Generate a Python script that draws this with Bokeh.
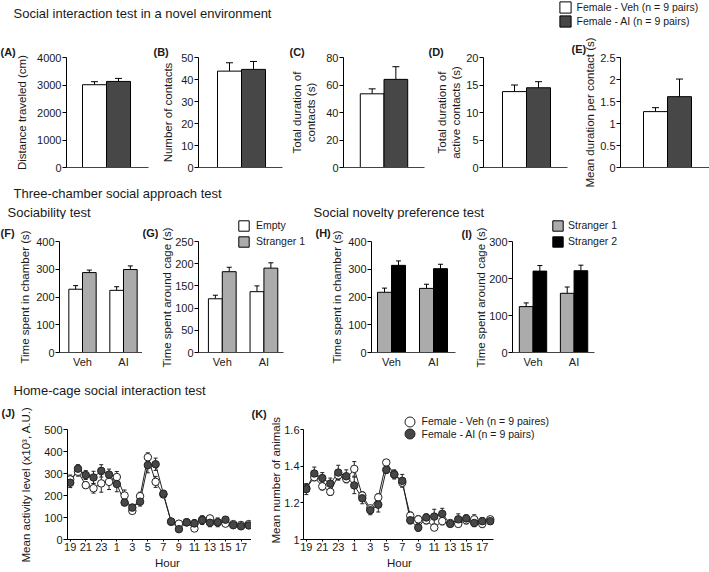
from bokeh.plotting import figure
from bokeh.layouts import column, row
from bokeh.models import (Range1d, FixedTicker, NumeralTickFormatter, Whisker, TeeHead,
                          ColumnDataSource, Label, Legend, LegendItem, Title)
from bokeh.embed import file_html
from bokeh.resources import INLINE

# ---------------- data ----------------
groups = ["Veh", "AI"]

# (A)-(E) social interaction test in a novel environment (Veh, AI)
distance_mean = [3010, 3130]
distance_sem = [110, 110]
contacts_mean = [43.8, 44.6]
contacts_sem = [3.8, 3.6]
contact_dur_mean = [53.6, 64.1]
contact_dur_sem = [3.6, 9.2]
active_dur_mean = [13.8, 14.5]
active_dur_sem = [1.2, 1.1]
per_contact_mean = [1.27, 1.61]
per_contact_sem = [0.09, 0.40]

dist_ticks = [0, 1000, 2000, 3000, 4000]
contacts_ticks = [0, 10, 20, 30, 40, 50]
contact_dur_ticks = [0, 20, 40, 60, 80]
active_ticks = [0, 5, 10, 15, 20]
per_contact_ticks = [0, 0.5, 1, 1.5, 2, 2.5]

# (F)(G) sociability test (Veh, AI)
chamber_empty = [228, 224]
chamber_empty_sem = [13, 13]
chamber_s1 = [288, 299]
chamber_s1_sem = [9, 13]
cage_empty = [121, 137]
cage_empty_sem = [8, 13]
cage_s1 = [182, 190]
cage_s1_sem = [10, 12]

# (H)(I) social novelty preference test (Veh, AI)
nov_chamber_s1 = [217, 231]
nov_chamber_s1_sem = [15, 15]
nov_chamber_s2 = [314, 302]
nov_chamber_s2_sem = [16, 16]
nov_cage_s1 = [124, 160]
nov_cage_s1_sem = [10, 17]
nov_cage_s2 = [220, 221]
nov_cage_s2_sem = [15, 15]

chamber_ticks = [0, 100, 200, 300, 400]
cage_ticks = [0, 50, 100, 150, 200, 250]
nov_cage_ticks = [0, 100, 200, 300]

# (J)(K) home-cage social interaction test
hours = [19, 20, 21, 22, 23, 0, 1, 2, 3, 4, 5, 6, 7, 8, 9, 10, 11, 12, 13, 14, 15, 16, 17, 18]
hour_labels = [19, 21, 23, 1, 3, 5, 7, 9, 11, 13, 15, 17]
activity_veh = [273, 308, 247, 233, 255, 262, 284, 200, 130, 197, 374, 262, 205, 80, 72, 78, 50, 90, 96, 78, 72, 70, 66, 70]
activity_veh_sem = [20, 20, 15, 22, 40, 35, 25, 25, 12, 18, 20, 25, 15, 12, 10, 10, 8, 12, 10, 12, 10, 8, 8, 8]
activity_ai = [258, 322, 293, 282, 312, 295, 252, 168, 145, 172, 338, 342, 208, 82, 47, 78, 73, 88, 76, 78, 90, 65, 60, 64]
activity_ai_sem = [22, 18, 20, 28, 28, 25, 35, 15, 15, 20, 35, 28, 15, 12, 10, 15, 18, 20, 18, 20, 12, 12, 10, 10]
animals_veh = [1.28, 1.34, 1.29, 1.26, 1.35, 1.33, 1.385, 1.24, 1.17, 1.23, 1.42, 1.355, 1.31, 1.13, 1.11, 1.105, 1.065, 1.10, 1.09, 1.085, 1.105, 1.11, 1.085, 1.11]
animals_veh_sem = [0.02, 0.02, 0.02, 0.02, 0.025, 0.02, 0.04, 0.02, 0.015, 0.02, 0.015, 0.02, 0.02, 0.02, 0.02, 0.02, 0.015, 0.02, 0.015, 0.015, 0.02, 0.025, 0.02, 0.015]
animals_ai = [1.275, 1.36, 1.335, 1.305, 1.365, 1.345, 1.295, 1.225, 1.16, 1.19, 1.38, 1.355, 1.32, 1.105, 1.065, 1.12, 1.125, 1.14, 1.085, 1.11, 1.115, 1.09, 1.10, 1.10]
animals_ai_sem = [0.03, 0.035, 0.03, 0.03, 0.04, 0.035, 0.045, 0.03, 0.025, 0.04, 0.02, 0.025, 0.035, 0.02, 0.02, 0.02, 0.04, 0.03, 0.015, 0.03, 0.02, 0.02, 0.02, 0.015]
activity_ticks = [0, 100, 200, 300, 400, 500]
animals_ticks = [1, 1.2, 1.4, 1.6]

# ---------------- style / layout constants (window pixels) ----------------
FONT = "Liberation Sans"
INK = "#1a1a1a"
WHITE = "#ffffff"
DARK = "#474747"
GREY = "#ababab"
BLACK = "#000000"
LINE = "#222222"
W = 709

ROW1 = (35, 187); FR1 = (57, 167)
ROW2 = (219, 370); FR2 = (241, 352)
ROW3 = (402, 572); FR3 = (429, 539)


def panel(fig_l, fig_r, fig_t, fig_b, fr_l, fr_r, fr_t, fr_b, xr, yr):
    p = figure(width=fig_r - fig_l, height=fig_b - fig_t, x_range=xr, y_range=yr,
               min_border_left=fr_l - fig_l, min_border_right=fig_r - fr_r,
               min_border_top=fr_t - fig_t, min_border_bottom=fig_b - fr_b,
               frame_align=False,
               output_backend="svg", toolbar_location=None, tools="")
    p.xgrid.visible = False
    p.ygrid.visible = False
    p.outline_line_color = None
    p.background_fill_color = "white"
    p.border_fill_color = "white"
    return p


def blank(fig_l, fig_r, fig_t, fig_b):
    p = figure(width=fig_r - fig_l, height=fig_b - fig_t, x_range=Range1d(0, 1),
               y_range=Range1d(0, 1), min_border=0, x_axis_location=None,
               y_axis_location=None, frame_align=False,
               output_backend="svg", toolbar_location=None, tools="")
    p.outline_line_color = None
    p.grid.visible = False
    p.background_fill_color = "white"
    p.border_fill_color = "white"
    return p


def style_axis(ax, ticks, label=None, overrides=None, tick_out=4, label_standoff=1,
               axis_standoff=6, color="black", bounds=None):
    ax.ticker = FixedTicker(ticks=ticks)
    ax.formatter = NumeralTickFormatter(format="0.[0]")
    if overrides:
        ax.major_label_overrides = overrides
    if bounds is not None:
        ax.bounds = bounds
    ax.axis_label = label
    ax.axis_label_text_font = FONT
    ax.axis_label_text_font_size = "11.5px"
    ax.axis_label_text_font_style = "normal"
    ax.axis_label_text_color = INK
    ax.axis_label_standoff = axis_standoff
    ax.major_label_text_font = FONT
    ax.major_label_text_font_size = "11px"
    ax.major_label_text_color = INK
    ax.major_label_standoff = label_standoff
    ax.major_tick_out = tick_out
    ax.major_tick_in = 0
    ax.minor_tick_line_color = None
    ax.axis_line_color = color
    ax.axis_line_width = 1
    ax.major_tick_line_color = "black" if tick_out else None


def side_title(p, text, place, offset, standoff=0, size="11.5px", bold=False):
    p.add_layout(Title(text=text, align="left", offset=offset, standoff=standoff,
                       text_font=FONT, text_font_size=size,
                       text_font_style="bold" if bold else "normal",
                       text_color=INK), place)


def add_err(p, xs, means, sems, head, both=False, color="black"):
    lower = [m - s for m, s in zip(means, sems)] if both else list(means)
    upper = [m + s for m, s in zip(means, sems)]
    src = ColumnDataSource(dict(base=list(xs), lower=lower, upper=upper))
    w = Whisker(source=src, base="base", lower="lower", upper="upper",
                line_color=color, line_width=1,
                upper_head=TeeHead(size=head, line_color=color, line_width=1),
                lower_head=TeeHead(size=head, line_color=color, line_width=1) if both else None)
    p.add_layout(w)


def add_text(p, fr_l, fr_b, text, x, y, size="11px", bold=False):
    p.add_layout(Label(x=x - fr_l, y=fr_b - y, x_units="screen", y_units="screen", text=text,
                       text_font=FONT, text_font_size=size,
                       text_font_style="bold" if bold else "normal",
                       text_color=INK, text_baseline="middle", text_align="left"))


def style_legend(leg, gw, gh, spacing, standoff):
    leg.glyph_width = gw
    leg.glyph_height = gh
    leg.label_height = 10
    leg.spacing = spacing
    leg.label_standoff = standoff
    leg.padding = 0
    leg.margin = 0
    leg.border_line_color = None
    leg.background_fill_alpha = 0
    leg.label_text_font = FONT
    leg.label_text_font_size = "10.5px"
    leg.label_text_color = INK


# ---------------- row 1: (A)-(E) ----------------
BAR_PX = 24.0
PAIR_COLORS = [WHITE, DARK]


def pair_panel(fig_l, fig_r, fr_l, fr_r, bar_left, means, sems, yticks, ylabel,
               tag, tag_x, tag_standoff, label_standoff):
    start = 0.5 - (bar_left - fr_l) / BAR_PX
    xr = Range1d(start, start + (fr_r - fr_l) / BAR_PX)
    yr = Range1d(yticks[0], yticks[-1])
    p = panel(fig_l, fig_r, ROW1[0], ROW1[1], fr_l, fr_r, FR1[0], FR1[1], xr, yr)
    xs = [i + 1 for i in range(len(groups))]
    p.vbar(x=xs, top=means, width=1, bottom=0, fill_color=PAIR_COLORS,
           line_color="black", line_width=1)
    add_err(p, xs, means, sems, head=7)
    style_axis(p.yaxis[0], yticks, ylabel, axis_standoff=label_standoff)
    style_axis(p.xaxis[0], [], None, tick_out=0, label_standoff=0, color="#444444")
    side_title(p, tag, "above", tag_x - fr_l, standoff=tag_standoff, size="11px", bold=True)
    return p


pA = pair_panel(0, 152, 66, 148, 82, distance_mean, distance_sem, dist_ticks,
                "Distance traveled (cm)", "(A)", 0, 0, 6)
pB = pair_panel(152, 287, 198, 282, 217, contacts_mean, contacts_sem, contacts_ticks,
                "Number of contacts", "(B)", 153, 0, 4)
pC = pair_panel(287, 427, 342, 424, 359, contact_dur_mean, contact_dur_sem, contact_dur_ticks,
                "Total duration of\ncontacts (s)", "(C)", 288, 0, 6)
pD = pair_panel(427, 570, 483, 567, 502, active_dur_mean, active_dur_sem, active_ticks,
                "Total duration of\nactive contacts (s)", "(D)", 428, 0, 1)
pE = pair_panel(570, 709, 620, 709, 643, per_contact_mean, per_contact_sem, per_contact_ticks,
                "Mean duration per contact (s)", "(E)", 571, 6, 1)

# header 1 (title + legend)
h1 = blank(0, W, 0, ROW1[0])
add_text(h1, 0, ROW1[0], "Social interaction test in a novel environment", 13, 13, size="13px")
nan = float("nan")
rv = h1.vbar(x=[nan], top=[nan], width=1, fill_color=WHITE, line_color="black")
ra = h1.vbar(x=[nan], top=[nan], width=1, fill_color=DARK, line_color="black")
leg1 = Legend(items=[LegendItem(label="Female - Veh (n = 9 pairs)", renderers=[rv]),
                     LegendItem(label="Female - AI (n = 9 pairs)", renderers=[ra])],
              location=(557.5, 7))
style_legend(leg1, 14, 14, 0, 5)
h1.add_layout(leg1)

# ---------------- row 2: (F)-(I) ----------------


def quad_panel(fig_l, fig_r, fr_l, ax_r, fr_r, fr_t, c1, gpx, s1, s1e, s2, s2e, colors,
               yticks, ylabel, ylabel_offset=None, label_standoff=6):
    start = 1 - (c1 - fr_l) / gpx
    xr = Range1d(start, start + (fr_r - fr_l) / gpx)
    ymax = yticks[-1]
    yr = Range1d(0, ymax + (FR2[0] - fr_t) * ymax / (FR2[1] - FR2[0]))
    p = panel(fig_l, fig_r, ROW2[0], ROW2[1], fr_l, fr_r, fr_t, FR2[1], xr, yr)
    xs = [i + 1 for i in range(len(groups))]
    x1 = [x - 1 / 6 for x in xs]
    x2 = [x + 1 / 6 for x in xs]
    r1 = p.vbar(x=x1, top=s1, width=1 / 3, bottom=0, fill_color=colors[0],
                line_color="black", line_width=1)
    r2 = p.vbar(x=x2, top=s2, width=1 / 3, bottom=0, fill_color=colors[1],
                line_color="black", line_width=1)
    add_err(p, x1, s1, s1e, 5)
    add_err(p, x2, s2, s2e, 5)
    style_axis(p.yaxis[0], yticks, ylabel if ylabel_offset is None else None,
               axis_standoff=label_standoff, bounds=(0, ymax))
    if ylabel_offset is not None:
        side_title(p, ylabel, "left", ylabel_offset)
    style_axis(p.xaxis[0], xs, None, overrides={x: g for x, g in zip(xs, groups)},
               tick_out=0, label_standoff=3, color="#444444",
               bounds=(start, start + (ax_r - fr_l) / gpx))
    return p, r1, r2


pF, _, _ = quad_panel(0, 142, 59, 142, 142, FR2[0], 82, 41, chamber_empty, chamber_empty_sem,
                      chamber_s1, chamber_s1_sem, [WHITE, GREY], chamber_ticks,
                      "Time spent in chamber (s)", label_standoff=2)
pG, g1, g2 = quad_panel(158, 312, 197, 283, 312, ROW2[0], 221, 42, cage_empty, cage_empty_sem,
                        cage_s1, cage_s1_sem, [WHITE, GREY], cage_ticks,
                        "Time spent around cage (s)", ylabel_offset=-15)
pH, _, _ = quad_panel(312, 461, 371, 455, 455, FR2[0], 391, 42, nov_chamber_s1,
                      nov_chamber_s1_sem, nov_chamber_s2, nov_chamber_s2_sem, [GREY, BLACK],
                      chamber_ticks, "Time spent in chamber (s)", label_standoff=2)
pI, i1, i2 = quad_panel(472, 709, 509, 593, 640, ROW2[0], 530, 42, nov_cage_s1, nov_cage_s1_sem,
                        nov_cage_s2, nov_cage_s2_sem, [GREY, BLACK], nov_cage_ticks,
                        "Time spent around cage (s)", ylabel_offset=-15)

side_title(pF, "(F)", "above", 0 - 59, standoff=5, size="11px", bold=True)
side_title(pH, "(H)", "above", 315 - 371, standoff=5, size="11px", bold=True)
sG = blank(142, 158, ROW2[0], ROW2[1])
add_text(sG, 142, ROW2[1], "(G)", 142, 232, bold=True)
sI = blank(461, 472, ROW2[0], ROW2[1])
add_text(sI, 461, ROW2[1], "(I)", 461, 233, bold=True)

legG = Legend(items=[LegendItem(label="Empty", renderers=[g1]),
                     LegendItem(label="Stranger 1", renderers=[g2])],
              location=(236 - 197, FR2[1] - 247.5))
style_legend(legG, 13, 13, 3, 6)
pG.add_layout(legG)
legI = Legend(items=[LegendItem(label="Stranger 1", renderers=[i1]),
                     LegendItem(label="Stranger 2", renderers=[i2])],
              location=(548 - 509, FR2[1] - 247.5))
style_legend(legI, 13, 13, 3, 4)
pI.add_layout(legI)

h2 = blank(0, W, ROW1[1], ROW2[0])
add_text(h2, 0, ROW2[0], "Three-chamber social approach test", 13, 193, size="13px")
add_text(h2, 0, ROW2[0], "Sociability test", 7, 212, size="13px")
add_text(h2, 0, ROW2[0], "Social novelty preference test", 313, 212, size="13px")

# ---------------- row 3: (J)(K) ----------------
PAD = 0.35


def hour_panel(fig_l, fig_r, fr_l, ax_r, fr_r, fr_t, veh, veh_e, ai, ai_e, yticks, ylabel,
               ylabel_offset=None, hour_offset=None, y_standoff=6):
    n = len(hours)
    px_per = (ax_r - fr_l) / (n - 1 + 2 * PAD)
    xr = Range1d(-PAD, n - 1 + PAD + (fr_r - ax_r) / px_per)
    ymin, ymax = yticks[0], yticks[-1]
    yr = Range1d(ymin, ymax + (FR3[0] - fr_t) * (ymax - ymin) / (FR3[1] - FR3[0]))
    p = panel(fig_l, fig_r, ROW3[0], ROW3[1], fr_l, fr_r, fr_t, FR3[1], xr, yr)
    idx = list(range(n))
    p.line(idx, veh, line_color=LINE, line_width=1)
    p.line(idx, ai, line_color=LINE, line_width=1)
    add_err(p, idx, veh, veh_e, 4, both=True, color=LINE)
    add_err(p, idx, ai, ai_e, 4, both=True, color=LINE)
    r_v = p.scatter(idx, veh, size=7.5, marker="circle", fill_color=WHITE,
                    line_color=LINE, line_width=1)
    r_a = p.scatter(idx, ai, size=7.5, marker="circle", fill_color=DARK,
                    line_color=LINE, line_width=1)
    tick_idx = [i for i, h in enumerate(hours) if h in hour_labels]
    style_axis(p.yaxis[0], yticks, ylabel if ylabel_offset is None else None,
               tick_out=3 if ylabel_offset is not None else 4,
               axis_standoff=y_standoff, bounds=(ymin, ymax))
    if ylabel_offset is not None:
        side_title(p, ylabel, "left", ylabel_offset)
    style_axis(p.xaxis[0], tick_idx, None,
               overrides={i: str(hours[i]) for i in tick_idx},
               tick_out=2, label_standoff=1, axis_standoff=2, bounds=(-PAD, n - 1 + PAD))
    side_title(p, "Hour", "below", hour_offset, standoff=3)
    return p, r_v, r_a


pJ, _, _ = hour_panel(17, 251, 63, 251, 251, FR3[0], activity_veh, activity_veh_sem,
                      activity_ai, activity_ai_sem, activity_ticks,
                      "Mean activity level (x10³, A.U.)", y_standoff=9,
                      hour_offset=163 - 12.5 - 63)
pK, kv, ka = hour_panel(267, 709, 301, 492, 560, ROW3[0], animals_veh, animals_veh_sem,
                        animals_ai, animals_ai_sem, animals_ticks, "Mean number of animals",
                        ylabel_offset=-4, hour_offset=397 - 12.5 - 301)
sJ = blank(0, 17, ROW3[0], ROW3[1])
add_text(sJ, 0, ROW3[1], "(J)", 1, 412, bold=True)
sK = blank(251, 267, ROW3[0], ROW3[1])
add_text(sK, 251, ROW3[1], "(K)", 251, 413, bold=True)

# one legend per row so that the large circle swatches sit close together
for label, rend, centre_y in (("Female - Veh (n = 9 paires)", kv, 421.0),
                              ("Female - AI (n = 9 pairs)", ka, 433.5)):
    legK = Legend(items=[LegendItem(label=label, renderers=[rend])],
                  location=(394.5 - 301, FR3[1] - (centre_y + 12.5)))
    style_legend(legK, 25, 25, 0, 0)
    pK.add_layout(legK)

h3 = blank(0, W, ROW2[1], ROW3[0])
add_text(h3, 0, ROW3[0], "Home-cage social interaction test", 13, 390, size="13px")

layout = column(h1, row(pA, pB, pC, pD, pE), h2, row(pF, sG, pG, pH, sI, pI),
                h3, row(sJ, pJ, sK, pK))

with open("out.html", "w") as f:
    f.write(file_html(layout, INLINE, title="Social interaction tests"))
